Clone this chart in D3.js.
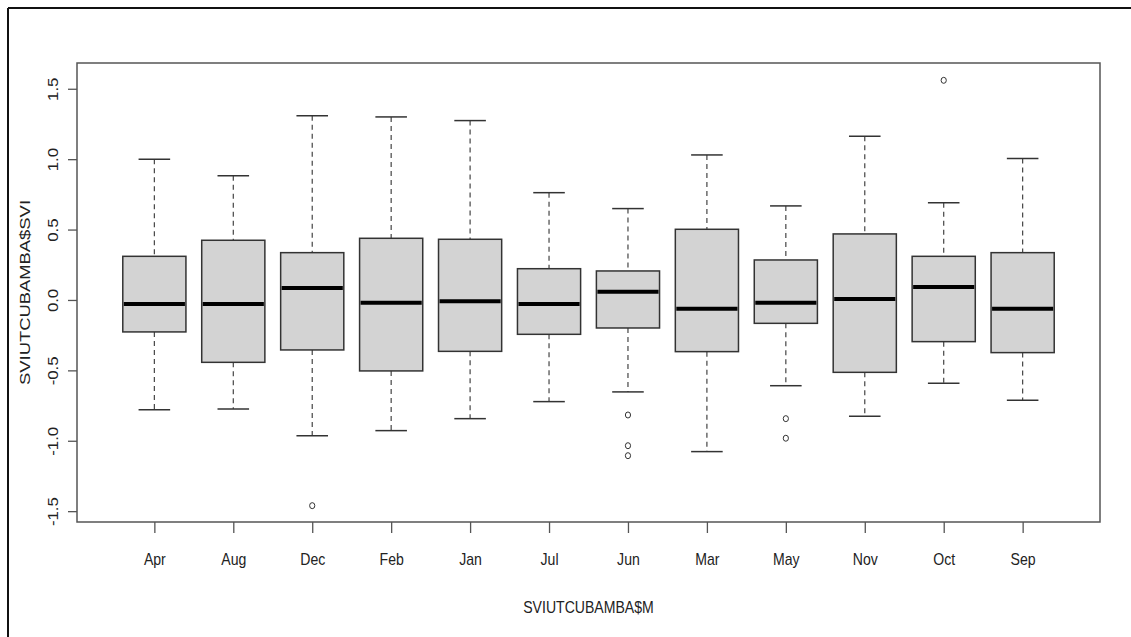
<!DOCTYPE html>
<html>
<head>
<meta charset="utf-8">
<script src="https://cdn.jsdelivr.net/npm/d3@7"></script>
<style>
  body { margin: 0; background: #fff; }
  text { font-family: "Liberation Sans", Arial, sans-serif; fill: #222; }
</style>
</head>
<body>
<div id="chart"></div>
<script>
// boxplot stats, one entry per month (R factor order)
var months = ["Apr","Aug","Dec","Feb","Jan","Jul","Jun","Mar","May","Nov","Oct","Sep"];
var lowerWhisker = [-0.780,-0.774,-0.964,-0.928,-0.843,-0.722,-0.653,-1.077,-0.609,-0.826,-0.592,-0.712];
var q1           = [-0.227,-0.443,-0.355,-0.504,-0.365,-0.244,-0.199,-0.367,-0.166,-0.514,-0.296,-0.374];
var medians      = [-0.028,-0.028, 0.085,-0.019,-0.009,-0.028, 0.059,-0.062,-0.019, 0.007, 0.092,-0.062];
var q3           = [ 0.310, 0.424, 0.336, 0.438, 0.431, 0.222, 0.206, 0.502, 0.284, 0.469, 0.310, 0.336];
var upperWhisker = [ 1.000, 0.883, 1.309, 1.300, 1.274, 0.762, 0.649, 1.030, 0.668, 1.163, 0.691, 1.004];
var outlierMonth = ["Dec","Jun","Jun","Jun","May","May","Oct"];
var outlierValue = [-1.461,-0.817,-1.035,-1.106,-0.843,-0.982,1.560];
var yTicks = [-1.5,-1.0,-0.5,0.0,0.5,1.0,1.5];
var xTitle = "SVIUTCUBAMBA$M";
var yTitle = "SVIUTCUBAMBA$SVI";

function drawBoxplot(){
  var W = 1131, H = 637;
  var plot = {left: 77, right: 1100, top: 63, bottom: 522};

  var svg = d3.select("#chart").append("svg")
      .attr("width", W)
      .attr("height", H);

  // outer image border (top + left only are visible)
  svg.append("line").attr("x1", 8).attr("y1", 8).attr("x2", W).attr("y2", 8)
      .attr("stroke", "#111").attr("stroke-width", 2);
  svg.append("line").attr("x1", 8).attr("y1", 8).attr("x2", 8).attr("y2", H)
      .attr("stroke", "#111").attr("stroke-width", 2);

  var n = months.length;
  // R pads the x range [0.5, n+0.5] by 4%
  var xScale = d3.scaleLinear()
      .domain([0.5 - 0.04 * n, n + 0.5 + 0.04 * n])
      .range([plot.left, plot.right]);

  var yScale = d3.scaleLinear()
      .domain([-1.577, 1.683])
      .range([plot.bottom, plot.top]);

  var boxW = xScale(1.8) - xScale(1);
  var capW = boxW / 2;

  var data = months.map(function(m, i){
    return {m: m, i: i + 1, lo: lowerWhisker[i], q1: q1[i], med: medians[i], q3: q3[i], hi: upperWhisker[i]};
  });

  var g = svg.selectAll(".box")
      .data(data)
    .enter().append("g")
      .attr("class", "box");

  // dashed whiskers
  g.append("line")
      .attr("x1", function(d){ return xScale(d.i); })
      .attr("x2", function(d){ return xScale(d.i); })
      .attr("y1", function(d){ return yScale(d.hi); })
      .attr("y2", function(d){ return yScale(d.q3); })
      .attr("stroke", "#444").attr("stroke-width", 1.2).attr("stroke-dasharray", "5,4");
  g.append("line")
      .attr("x1", function(d){ return xScale(d.i); })
      .attr("x2", function(d){ return xScale(d.i); })
      .attr("y1", function(d){ return yScale(d.q1); })
      .attr("y2", function(d){ return yScale(d.lo); })
      .attr("stroke", "#444").attr("stroke-width", 1.2).attr("stroke-dasharray", "5,4");

  // staples
  g.append("line")
      .attr("x1", function(d){ return xScale(d.i) - capW / 2; })
      .attr("x2", function(d){ return xScale(d.i) + capW / 2; })
      .attr("y1", function(d){ return yScale(d.hi); })
      .attr("y2", function(d){ return yScale(d.hi); })
      .attr("stroke", "#333").attr("stroke-width", 1.5);
  g.append("line")
      .attr("x1", function(d){ return xScale(d.i) - capW / 2; })
      .attr("x2", function(d){ return xScale(d.i) + capW / 2; })
      .attr("y1", function(d){ return yScale(d.lo); })
      .attr("y2", function(d){ return yScale(d.lo); })
      .attr("stroke", "#333").attr("stroke-width", 1.5);

  // boxes
  g.append("rect")
      .attr("x", function(d){ return xScale(d.i) - boxW / 2; })
      .attr("y", function(d){ return yScale(d.q3); })
      .attr("width", boxW)
      .attr("height", function(d){ return yScale(d.q1) - yScale(d.q3); })
      .attr("fill", "#d3d3d3")
      .attr("stroke", "#333").attr("stroke-width", 1.5);

  // medians
  g.append("line")
      .attr("x1", function(d){ return xScale(d.i) - boxW / 2 + 1; })
      .attr("x2", function(d){ return xScale(d.i) + boxW / 2 - 1; })
      .attr("y1", function(d){ return yScale(d.med); })
      .attr("y2", function(d){ return yScale(d.med); })
      .attr("stroke", "#000").attr("stroke-width", 4);

  // outliers
  svg.selectAll(".outlier")
      .data(outlierValue)
    .enter().append("ellipse")
      .attr("class", "outlier")
      .attr("cx", function(d, k){ return xScale(months.indexOf(outlierMonth[k]) + 1); })
      .attr("cy", function(d){ return yScale(d); })
      .attr("rx", 2.6).attr("ry", 3)
      .attr("fill", "none").attr("stroke", "#333").attr("stroke-width", 1);

  // plot frame
  svg.append("rect")
      .attr("x", plot.left).attr("y", plot.top)
      .attr("width", plot.right - plot.left)
      .attr("height", plot.bottom - plot.top)
      .attr("fill", "none").attr("stroke", "#555").attr("stroke-width", 1.5);

  // x axis
  var xAxis = svg.append("g")
      .attr("class", "x axis")
      .attr("transform", "translate(0," + plot.bottom + ")")
      .call(d3.axisBottom(xScale)
        .tickValues(d3.range(1, n + 1))
        .tickFormat(function(d){ return months[d - 1]; })
        .tickSize(11));
  xAxis.select(".domain").remove();
  xAxis.selectAll(".tick line").attr("stroke", "#555").attr("stroke-width", 1.3);
  xAxis.selectAll(".tick text")
      .attr("y", null).attr("dy", null)
      .attr("transform", "translate(0,43) scale(0.88,1)")
      .style("font-size", "16px")
      .attr("fill", "#222");

  // y axis
  var yAxis = svg.append("g")
      .attr("class", "y axis")
      .attr("transform", "translate(" + plot.left + ",0)")
      .call(d3.axisLeft(yScale)
        .tickValues(yTicks)
        .tickFormat(function(d){ return d.toFixed(1); })
        .tickSize(9));
  yAxis.select(".domain").remove();
  yAxis.selectAll(".tick line").attr("stroke", "#555").attr("stroke-width", 1.3);
  yAxis.selectAll(".tick text")
      .attr("x", null).attr("dy", null)
      .attr("text-anchor", "middle")
      .attr("transform", "translate(-19,0) rotate(-90) scale(1.05,0.87)")
      .style("font-size", "16px")
      .attr("fill", "#222");

  // axis titles
  svg.append("text")
      .attr("transform", "translate(" + ((plot.left + plot.right) / 2) + ",613) scale(0.88,1)")
      .attr("text-anchor", "middle")
      .style("font-size", "16px")
      .text(xTitle);

  svg.append("text")
      .attr("transform", "translate(30," + ((plot.top + plot.bottom) / 2) + ") rotate(-90) scale(1.15,0.9)")
      .attr("text-anchor", "middle")
      .style("font-size", "16px")
      .text(yTitle);
}

drawBoxplot();
</script>
</body>
</html>
